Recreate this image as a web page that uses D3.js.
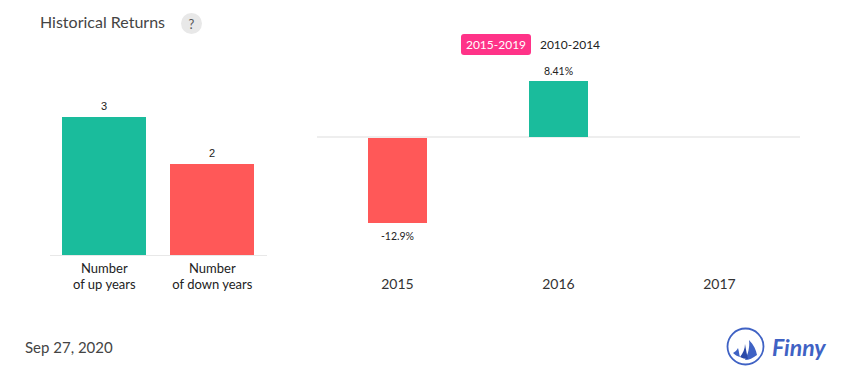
<!DOCTYPE html>
<html>
<head>
<meta charset="utf-8">
<script src="https://cdn.jsdelivr.net/npm/d3@7"></script>
<style>
html,body{margin:0;padding:0;background:#fff;}
svg{display:block;}
text{font-family:Lato,sans-serif;}
</style>
</head>
<body>
<svg id="chart" width="855" height="382"></svg>
<script>
const countKeys = ["up","down"];
const countLabels = [["Number","of up years"],["Number","of down years"]];
const countValues = [3, 2];
const years = ["2015","2016","2017"];
const yearReturns = [-12.9, 8.41, null];
const returnLabels = ["-12.9%","8.41%",""];
const periods = ["2015-2019","2010-2014"];
const GREEN="#1abc9c", RED="#ff5858", AXIS="#e8e8e8", BLUE="#3f62c4";

const svg=d3.select("#chart");

// header
svg.append("text").attr("x",40).attr("y",28).attr("font-size",16).attr("fill","#444").text("Historical Returns");
svg.append("circle").attr("cx",191.5).attr("cy",23.5).attr("r",10.5).attr("fill","#e8e8e8");
svg.append("text").attr("x",191.5).attr("y",28.5).attr("text-anchor","middle").attr("font-size",13).attr("fill","#555").text("?");

// left chart
const leftBase=255;
const xLeft=d3.scaleBand().domain(countKeys).range([50,266]).paddingInner(24/108).paddingOuter(12/108).align(0.5);
const yLeft=d3.scaleLinear().domain([0,3]).range([256,117]);
const barW=xLeft.bandwidth();
const lc=i=>xLeft(countKeys[i])+barW/2;
svg.append("line").attr("x1",50).attr("x2",267).attr("y1",leftBase+0.5).attr("y2",leftBase+0.5).attr("stroke",AXIS);
svg.selectAll(".lbar").data(countValues).join("rect").attr("class","lbar")
  .attr("x",(d,i)=>xLeft(countKeys[i])).attr("width",barW)
  .attr("y",d=>Math.ceil(yLeft(d))).attr("height",d=>leftBase-Math.ceil(yLeft(d)))
  .attr("fill",(d,i)=>i===0?GREEN:RED);
svg.selectAll(".lval").data(countValues).join("text").attr("class","lval")
  .attr("x",(d,i)=>lc(i)).attr("y",d=>Math.ceil(yLeft(d))-7)
  .attr("text-anchor","middle").attr("font-size",11).attr("fill","#222")
  .style("font-family","'Liberation Sans',sans-serif").text(d=>d);
countLabels.forEach((lines,i)=>{
  lines.forEach((t,j)=>{
    svg.append("text").attr("x",lc(i)+0.3).attr("y",273+j*16)
      .attr("text-anchor","middle").attr("font-size",13).attr("fill","#222").text(t);
  });
});

// right chart
const xRight=d3.scaleBand().domain(years).range([317,800]);
const yRight=d3.scaleLinear().domain([-12.9,8.41]).range([223,81]);
const rBarW=59;
const y0=Math.round(yRight(0));
const cx=i=>xRight(years[i])+xRight.bandwidth()/2;
svg.append("line").attr("x1",317).attr("x2",800).attr("y1",y0).attr("y2",y0).attr("stroke",AXIS).attr("stroke-width",1.5);
svg.selectAll(".rbar").data(yearReturns).join("rect").attr("class","rbar")
  .attr("x",(d,i)=>cx(i)-rBarW/2).attr("width",rBarW)
  .attr("y",d=>d===null?y0:(d>=0?yRight(d):y0+1))
  .attr("height",d=>d===null?0:(d>=0?y0-yRight(d):yRight(d)-y0-1))
  .attr("fill",d=>d===null?"none":(d>=0?GREEN:RED));
svg.selectAll(".rval").data(returnLabels).join("text").attr("class","rval")
  .attr("x",(d,i)=>cx(i))
  .attr("y",(d,i)=>yearReturns[i]===null?0:(yearReturns[i]>=0?yRight(yearReturns[i])-6:yRight(yearReturns[i])+17))
  .attr("text-anchor","middle").attr("font-size",10.5).attr("fill","#222").text(d=>d);
svg.selectAll(".rcat").data(years).join("text").attr("class","rcat")
  .attr("x",(d,i)=>cx(i)).attr("y",289).attr("text-anchor","middle")
  .attr("font-size",14).attr("fill","#333").text(d=>d);

// period tabs
svg.append("rect").attr("x",461).attr("y",34).attr("width",70).attr("height",21).attr("rx",3).attr("fill","#ff3388");
svg.append("text").attr("x",496).attr("y",49).attr("text-anchor","middle").attr("font-size",12).attr("fill","#fff").text(periods[0]);
svg.append("text").attr("x",570).attr("y",49).attr("text-anchor","middle").attr("font-size",12).attr("fill","#222").text(periods[1]);

// footer
svg.append("text").attr("x",25).attr("y",353).attr("font-size",15).attr("fill","#444").text("Sep 27, 2020");

// logo
const logo=svg.append("g").attr("fill",BLUE);
logo.append("circle").attr("cx",745.5).attr("cy",346.5).attr("r",18).attr("fill","none").attr("stroke",BLUE).attr("stroke-width",1.8);
logo.append("path").attr("d","M749 340 C754 345 756 350 757 355 C753 358 749 360 745 360 C748 354 750 347 749 340Z");
logo.append("path").attr("d","M745 344 C746 350 747 355 748 359 C745 359 742 358 740 357 C743 353 745 349 745 344Z").attr("fill","#2a49a8");
logo.append("path").attr("d","M738 348 C739 351 739 354 740 357 C737 356 735 355 733 353 C735 352 737 350 738 348Z");
svg.append("text").attr("x",772).attr("y",356).attr("font-size",23).attr("font-weight",700).attr("font-style","italic")
  .attr("fill",BLUE).text("Finny");
</script>
</body>
</html>
